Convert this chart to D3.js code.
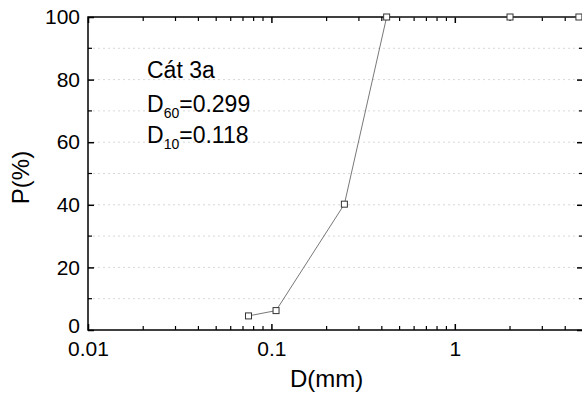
<!DOCTYPE html>
<html>
<head>
<meta charset="utf-8">
<script src="https://cdn.jsdelivr.net/npm/d3@7"></script>
<style>
  body { margin: 0; background: #fff; }
  svg { display: block; font-family: Arial, "Liberation Sans", sans-serif; }
</style>
</head>
<body>
<div id="chart"></div>
<script>
// Data (grain size distribution)
const sizes = [0.075, 0.106, 0.25, 0.425, 2.0, 4.75];
const passing = [4.5, 6.2, 40.2, 100, 100, 100];
const yTicks = [0, 20, 40, 60, 80, 100];
const xTicks = [0.01, 0.1, 1];
const notes = ["Cát 3a", ["D", "60", "=0.299"], ["D", "10", "=0.118"]];

const W = 582, H = 396;
const pLeft = 88, pRight = 583, pTop = 17, pBottom = 330;
const fontFam = "Arial, 'Liberation Sans', sans-serif";

const svg = d3.select("#chart").append("svg")
  .attr("width", W).attr("height", H);

const x = d3.scaleLog().domain([0.01, 5]).range([pLeft, pRight]);
const y = d3.scaleLinear().domain([0, 100]).range([pBottom, pTop]);

// horizontal dotted grid
svg.append("g")
  .selectAll("line")
  .data(d3.range(10, 100, 10))
  .enter().append("line")
  .attr("x1", pLeft).attr("x2", pRight)
  .attr("y1", d => y(d)).attr("y2", d => y(d))
  .attr("stroke", "#d8d8d8")
  .attr("stroke-width", 1)
  .attr("stroke-dasharray", "2,3");

// minor ticks for log axis
const minorX = [];
[0.01, 0.1, 1].forEach(b => { for (let k = 2; k <= 9; k++) if (b * k <= 5) minorX.push(b * k); });

// bottom axis
const xAxis = svg.append("g")
  .attr("transform", `translate(0,${pBottom})`)
  .call(d3.axisBottom(x).tickValues(xTicks).tickFormat(d3.format("")).tickSize(-6).tickPadding(11));
xAxis.call(g => g.select(".domain").remove());
xAxis.selectAll("text").attr("font-size", 21).attr("font-family", fontFam).attr("fill", "#000");
xAxis.selectAll(".tick line").attr("stroke", "#000").attr("stroke-width", 1.5);
xAxis.append("g").selectAll("line").data(minorX).enter().append("line")
  .attr("x1", d => x(d)).attr("x2", d => x(d)).attr("y1", 0).attr("y2", -4)
  .attr("stroke", "#000").attr("stroke-width", 1.2);

// top axis (ticks only)
const xTop = svg.append("g")
  .attr("transform", `translate(0,${pTop})`)
  .call(d3.axisTop(x).tickValues(xTicks).tickFormat("").tickSize(-6));
xTop.call(g => g.select(".domain").remove());
xTop.selectAll(".tick line").attr("stroke", "#000").attr("stroke-width", 1.5);
xTop.append("g").selectAll("line").data(minorX).enter().append("line")
  .attr("x1", d => x(d)).attr("x2", d => x(d)).attr("y1", 0).attr("y2", 4)
  .attr("stroke", "#000").attr("stroke-width", 1.2);

// left axis
const yAxis = svg.append("g")
  .attr("transform", `translate(${pLeft},0)`)
  .call(d3.axisLeft(y).tickValues(yTicks).tickSize(-6).tickPadding(8));
yAxis.call(g => g.select(".domain").remove());
yAxis.selectAll("text").attr("font-size", 21).attr("font-family", fontFam).attr("fill", "#000");
// lift the "0" a little so it clears the "0.01" label
yAxis.selectAll(".tick text").filter(d => d === 0).attr("y", -4);
yAxis.selectAll(".tick line").attr("stroke", "#000").attr("stroke-width", 1.5);
yAxis.append("g").selectAll("line").data(d3.range(10, 100, 20)).enter().append("line")
  .attr("x1", 0).attr("x2", 4).attr("y1", d => y(d)).attr("y2", d => y(d))
  .attr("stroke", "#000").attr("stroke-width", 1.2);

// right axis
const yRight = svg.append("g")
  .attr("transform", `translate(${pRight},0)`)
  .call(d3.axisRight(y).tickValues(yTicks).tickFormat("").tickSize(-6));
yRight.call(g => g.select(".domain").remove());
yRight.selectAll(".tick line").attr("stroke", "#000").attr("stroke-width", 1.5);
yRight.append("g").selectAll("line").data(d3.range(10, 100, 20)).enter().append("line")
  .attr("x1", 0).attr("x2", -4).attr("y1", d => y(d)).attr("y2", d => y(d))
  .attr("stroke", "#000").attr("stroke-width", 1.2);

// frame
svg.append("rect")
  .attr("x", pLeft).attr("y", pTop)
  .attr("width", pRight - pLeft).attr("height", pBottom - pTop)
  .attr("fill", "none").attr("stroke", "#000").attr("stroke-width", 1.5);

// line + markers
const pts = sizes.map((s, i) => [s, passing[i]]);
svg.append("path")
  .datum(pts)
  .attr("fill", "none")
  .attr("stroke", "#555")
  .attr("stroke-width", 0.8)
  .attr("d", d3.line().x(d => x(d[0])).y(d => y(d[1])));

svg.selectAll(".pt")
  .data(pts)
  .enter().append("rect")
  .attr("class", "pt")
  .attr("x", d => x(d[0]) - 3).attr("y", d => y(d[1]) - 3)
  .attr("width", 6).attr("height", 6)
  .attr("fill", "#fff").attr("stroke", "#333").attr("stroke-width", 1);

// annotation
const ann = svg.append("g").attr("font-size", 23).attr("fill", "#000");
ann.append("text").attr("x", 147).attr("y", 78).text(notes[0]);
[notes[1], notes[2]].forEach((n, i) => {
  const t = ann.append("text").attr("x", 147).attr("y", 112 + i * 31);
  t.append("tspan").text(n[0]);
  t.append("tspan").attr("font-size", 14).attr("dy", 6).text(n[1]);
  t.append("tspan").attr("dy", -6).text(n[2]);
});

// axis titles
svg.append("text")
  .attr("x", x(0.2)).attr("y", 387)
  .attr("text-anchor", "middle").attr("font-size", 24)
  .text("D(mm)");
svg.append("text")
  .attr("transform", `translate(29,${y(50) + 4}) rotate(-90)`)
  .attr("text-anchor", "middle").attr("font-size", 24)
  .text("P(%)");
</script>
</body>
</html>
